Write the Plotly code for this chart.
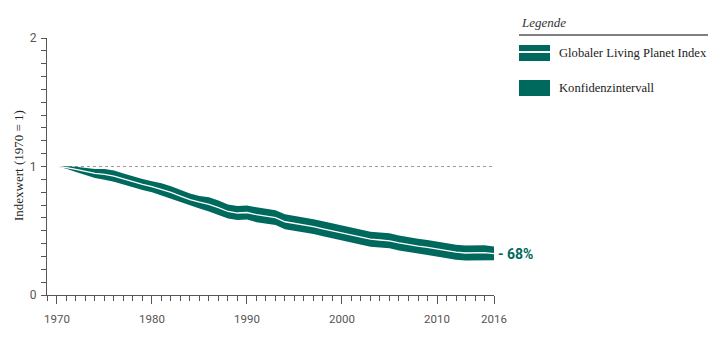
import plotly.graph_objects as go

years = list(range(1970, 2017))
lpi = [1.000, 0.992, 0.978, 0.962, 0.946, 0.938, 0.925, 0.903, 0.880, 0.860,
       0.843, 0.822, 0.798, 0.770, 0.742, 0.722, 0.705, 0.680, 0.650, 0.638,
       0.642, 0.625, 0.612, 0.602, 0.570, 0.558, 0.545, 0.532, 0.515, 0.498,
       0.482, 0.466, 0.450, 0.434, 0.428, 0.422, 0.405, 0.390, 0.380, 0.370,
       0.357, 0.344, 0.333, 0.327, 0.326, 0.330, 0.322]
ci_upper = [1.000, 1.002, 0.998, 0.990, 0.981, 0.980, 0.968, 0.946, 0.923, 0.903,
            0.886, 0.870, 0.846, 0.818, 0.790, 0.770, 0.760, 0.735, 0.705, 0.693,
            0.697, 0.683, 0.670, 0.660, 0.628, 0.616, 0.603, 0.590, 0.573, 0.556,
            0.540, 0.524, 0.508, 0.492, 0.486, 0.480, 0.463, 0.448, 0.438, 0.428,
            0.415, 0.402, 0.391, 0.385, 0.384, 0.388, 0.377]
ci_lower = [1.000, 0.982, 0.958, 0.934, 0.911, 0.896, 0.882, 0.860, 0.837, 0.817,
            0.800, 0.774, 0.750, 0.722, 0.694, 0.674, 0.650, 0.625, 0.595, 0.583,
            0.587, 0.567, 0.554, 0.544, 0.512, 0.500, 0.487, 0.474, 0.457, 0.440,
            0.424, 0.408, 0.392, 0.376, 0.370, 0.364, 0.347, 0.332, 0.322, 0.312,
            0.299, 0.286, 0.275, 0.269, 0.268, 0.272, 0.270]

x_tickvals = [1970, 1980, 1990, 2000, 2010, 2016]
x_ticktext = ["1970", "1980", "1990", "2000", "2010", "2016"]
y_tickvals = [0, 1, 2]
y_ticktext = ["0", "1", "2"]

TEAL = "#00695E"
GREY = "#555555"
SERIF = "Liberation Serif, DejaVu Serif, serif"
NARROW = "Liberation Sans Narrow, Roboto, sans-serif"

# plot area in pixels
L, R, T, B = 47, 494, 38, 295
W, H = 724, 347
pw, ph = R - L, B - T
XR = [1968.95, 2016]
YR = [0, 2]


def px(xp):
    return (xp - L) / pw


def py(yp):
    return (B - yp) / ph


fig = go.Figure()
fig.add_trace(go.Scatter(x=years, y=ci_upper, mode="lines", line=dict(width=0, color=TEAL),
                         hoverinfo="skip", showlegend=False))
fig.add_trace(go.Scatter(x=years, y=ci_lower, mode="lines", line=dict(width=0, color=TEAL),
                         fill="tonexty", fillcolor=TEAL, showlegend=False))
fig.add_trace(go.Scatter(x=years, y=lpi, mode="lines", line=dict(width=1.3, color="white"),
                         showlegend=False))
# invisible trace to activate the overlay axes carrying the yearly / 0.1 minor ticks
fig.add_trace(go.Scatter(x=[years[0]], y=[lpi[0]], xaxis="x2", yaxis="y2", mode="markers",
                         marker=dict(opacity=0), hoverinfo="skip", showlegend=False))

fig.add_shape(type="line", xref="x", yref="y", x0=1970, x1=2016, y0=1, y1=1,
              line=dict(color="#9a9a9a", width=1, dash="dot"), layer="below")

# custom legend
fig.add_annotation(xref="paper", yref="paper", x=px(519), y=py(22), xanchor="left", yanchor="middle",
                   text="<i>Legende</i>", showarrow=False, font=dict(family=SERIF, size=13, color="#333333"))
fig.add_shape(type="line", xref="paper", yref="paper", x0=px(519), x1=px(708), y0=py(35), y1=py(35),
              line=dict(color=GREY, width=1.5))
fig.add_shape(type="rect", xref="paper", yref="paper", x0=px(519), x1=px(550), y0=py(45), y1=py(61),
              line=dict(width=0), fillcolor=TEAL)
fig.add_shape(type="line", xref="paper", yref="paper", x0=px(519), x1=px(550), y0=py(52), y1=py(52),
              line=dict(color="white", width=2))
fig.add_annotation(xref="paper", yref="paper", x=px(557), y=py(53), xanchor="left", yanchor="middle",
                   text="Globaler Living Planet Index", showarrow=False,
                   font=dict(family=SERIF, size=12.6, color="#222222"))
fig.add_shape(type="rect", xref="paper", yref="paper", x0=px(519), x1=px(550), y0=py(80), y1=py(96),
              line=dict(width=0), fillcolor=TEAL)
fig.add_annotation(xref="paper", yref="paper", x=px(557), y=py(88), xanchor="left", yanchor="middle",
                   text="Konfidenzintervall", showarrow=False,
                   font=dict(family=SERIF, size=12.6, color="#222222"))

# -68% label
fig.add_annotation(xref="paper", yref="y", x=px(496), y=lpi[-1] - 0.003, xanchor="left", yanchor="middle",
                   text="<b>- 68%</b>", showarrow=False,
                   font=dict(family=NARROW, size=14, color=TEAL))

# y title
fig.add_annotation(xref="paper", yref="paper", x=px(18), y=py(166), xanchor="center", yanchor="middle",
                   text="Indexwert (1970 = 1)", textangle=-90, showarrow=False,
                   font=dict(family=SERIF, size=13, color="#222222"))

fig.update_layout(
    width=W, height=H,
    margin=dict(l=L, r=W - R, t=T, b=H - B, pad=0),
    plot_bgcolor="white", paper_bgcolor="white",
    showlegend=False,
    xaxis=dict(range=XR, tickmode="array", tickvals=x_tickvals, ticktext=x_ticktext,
               ticks="outside", ticklen=8, tickwidth=1, tickcolor=GREY, ticklabelstandoff=5,
               showline=True, linecolor=GREY, linewidth=1.2, showgrid=False, zeroline=False,
               tickfont=dict(family=NARROW, size=11.5, color=GREY)),
    yaxis=dict(range=YR, tickmode="array", tickvals=y_tickvals, ticktext=y_ticktext,
               ticks="outside", ticklen=5, tickwidth=1, tickcolor=GREY, ticklabelstandoff=2,
               showline=True, linecolor=GREY, linewidth=1.2, showgrid=False, zeroline=False,
               tickfont=dict(family=NARROW, size=12, color=GREY)),
    xaxis2=dict(range=XR, overlaying="x", side="bottom", anchor="y", tickmode="linear", tick0=1970, dtick=1,
                ticks="outside", ticklen=5, tickwidth=1, tickcolor=GREY, showticklabels=False,
                showline=False, showgrid=False, zeroline=False),
    yaxis2=dict(range=YR, overlaying="y", side="left", anchor="x", tickmode="linear", tick0=0, dtick=0.1,
                ticks="outside", ticklen=5, tickwidth=1, tickcolor=GREY, showticklabels=False,
                showline=False, showgrid=False, zeroline=False),
)

fig.write_html("out.html")
